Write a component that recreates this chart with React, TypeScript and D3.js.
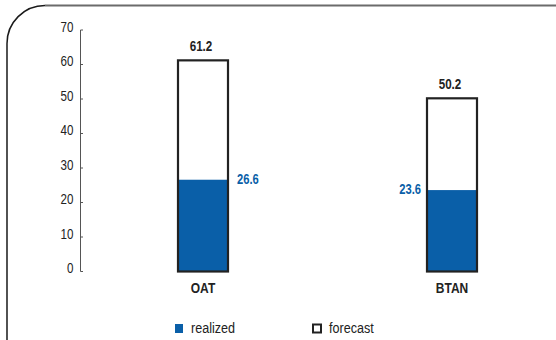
import React from "react";
import * as d3 from "d3";

const categories = ["OAT", "BTAN"];
const realized = [26.6, 23.6];
const forecast = [61.2, 50.2];
const yTicks = [0, 10, 20, 30, 40, 50, 60, 70];
const legendItems = ["realized", "forecast"];

const W = 556;
const H = 340;
const FONT = "'Liberation Sans', Arial, sans-serif";
const BLUE = "#0a5fa8";
const INK = "#222";

type TxtProps = {
  x: number;
  y: number;
  anchor?: "start" | "middle" | "end";
  size: number;
  bold?: boolean;
  fill?: string;
  sx?: number;
  children: React.ReactNode;
};

// Narrow text: horizontally compressed sans, positioned by its anchor point
function Txt({ x, y, anchor = "start", size, bold, fill = INK, sx = 0.8, children }: TxtProps) {
  return (
    <g transform={`translate(${x},${y}) scale(${sx},1)`}>
      <text
        x={0}
        y={0}
        textAnchor={anchor}
        dominantBaseline="central"
        fontFamily={FONT}
        fontWeight={bold ? "bold" : "normal"}
        fontSize={size}
        fill={fill}
      >
        {children}
      </text>
    </g>
  );
}

export default function App() {
  const y = d3.scaleLinear().domain([0, 70]).range([271.5, 30]);
  const x = d3.scalePoint().domain(categories).range([203, 452]);
  const bw = 50;

  return (
    <svg width={W} height={H} style={{ position: "absolute", left: 0, top: 0, background: "#fff" }}>
      {/* rounded frame: top edge and left edge */}
      <path d="M556,5.5 L45,5.5" fill="none" stroke="#6b6b6b" strokeWidth={2} />
      <path d="M45,5.5 A38,38 0 0 0 7,43.5 L7,340" fill="none" stroke="#1a1a1a" strokeWidth={1.5} />

      {/* y axis */}
      <line x1={80.5} x2={80.5} y1={y(70)} y2={y(0)} stroke="#555" strokeWidth={1} />
      {yTicks.map((t) => (
        <g key={t}>
          <line x1={80.5} x2={83} y1={y(t)} y2={y(t)} stroke="#555" strokeWidth={1} />
          <Txt x={73.5} y={y(t) - 3} anchor="end" size={14.5}>
            {t}
          </Txt>
        </g>
      ))}

      {categories.map((c, i) => {
        const xc = x(c) as number;
        const x0 = xc - bw / 2;
        return (
          <g key={c}>
            <rect x={x0} y={y(forecast[i])} width={bw} height={y(0) - y(forecast[i])} fill="#fff" />
            <rect x={x0} y={y(realized[i])} width={bw} height={y(0) - y(realized[i])} fill={BLUE} />
            <rect x={x0} y={y(forecast[i])} width={bw} height={y(0) - y(forecast[i])} fill="none" stroke={INK} strokeWidth={2.2} />
            <Txt x={xc - 2} y={y(forecast[i]) - 14} anchor="middle" size={14.5} bold>
              {forecast[i].toFixed(1)}
            </Txt>
            <Txt x={i === 0 ? x0 + bw + 9 : x0 - 6} y={y(realized[i])} anchor={i === 0 ? "start" : "end"} size={14} bold fill={BLUE}>
              {realized[i].toFixed(1)}
            </Txt>
            <Txt x={xc} y={288} anchor="middle" size={15} bold>
              {c}
            </Txt>
          </g>
        );
      })}

      {/* legend */}
      <rect x={175} y={324} width={8} height={9} fill={BLUE} />
      <Txt x={191} y={328} size={15} sx={0.84}>
        {legendItems[0]}
      </Txt>
      <rect x={313} y={324.5} width={8} height={8} fill="#fff" stroke={INK} strokeWidth={2} />
      <Txt x={329} y={328} size={15} sx={0.84}>
        {legendItems[1]}
      </Txt>
    </svg>
  );
}
